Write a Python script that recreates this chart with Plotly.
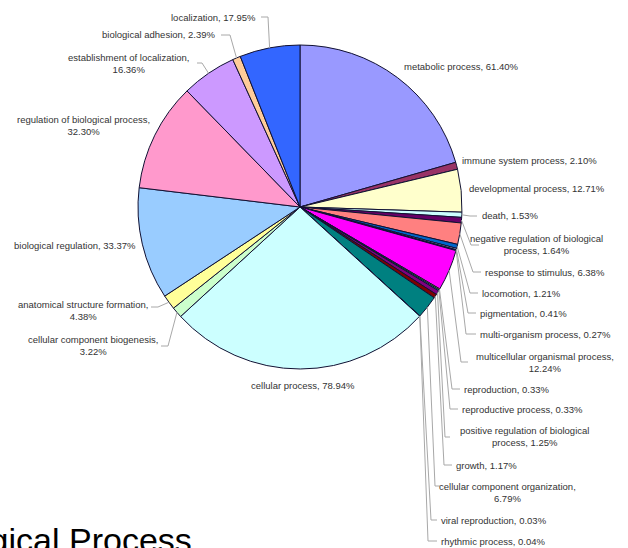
import math
import textwrap
import plotly.graph_objects as go

# GO "Biological Process" term shares (a gene may carry several terms, so the sum exceeds 100%)
categories = [
    "metabolic process", "immune system process", "developmental process", "death",
    "negative regulation of biological process", "response to stimulus", "locomotion",
    "pigmentation", "multi-organism process", "multicellular organismal process",
    "reproduction", "reproductive process", "positive regulation of biological process",
    "growth", "cellular component organization", "viral reproduction", "rhythmic process",
    "cellular process", "cellular component biogenesis", "anatomical structure formation",
    "biological regulation", "regulation of biological process",
    "establishment of localization", "biological adhesion", "localization",
]
percent = [
    61.40, 2.10, 12.71, 1.53,
    1.64, 6.38, 1.21,
    0.41, 0.27, 12.24,
    0.33, 0.33, 1.25,
    1.17, 6.79, 0.03, 0.04,
    78.94, 3.22, 4.38,
    33.37, 32.30,
    16.36, 2.39, 17.95,
]

# classic spreadsheet series palette
palette = [
    "#9999FF", "#993366", "#FFFFCC", "#CCFFFF", "#660066", "#FF8080", "#0066CC",
    "#CCCCFF", "#000080", "#FF00FF", "#FFFF00", "#00FFFF", "#800080", "#800000",
    "#008080", "#0000FF", "#00CCFF", "#CCFFFF", "#CCFFCC", "#FFFF99", "#99CCFF",
    "#FF99CC", "#CC99FF", "#FFCC99", "#3366FF",
]

W, H = 628, 548
CX, CY, R = 300, 207, 162  # pie centre and radius in pixels


def px(x):
    return x / W


def py(y):
    return 1 - y / H


# label placement: (anchor, x, y, leader tip, leader elbow) in pixels
label_layout = {
    "metabolic process": ("left", 402, 66, None, None),
    "immune system process": ("left", 460, 161, None, None),
    "developmental process": ("left", 467, 188, None, None),
    "death": ("left", 480, 216, (477, 216), (470, 216)),
    "negative regulation of biological process": ("center", 536, 244, (479, 245), (471, 245)),
    "response to stimulus": ("left", 483, 272, (481, 272), (473, 272)),
    "locomotion": ("left", 480, 293, (478, 293), (470, 293)),
    "pigmentation": ("left", 478, 313, (476, 313), (468, 313)),
    "multi-organism process": ("left", 478, 334, (476, 334), (466, 334)),
    "multicellular organismal process": ("center", 545, 362, (468, 362), (461, 362)),
    "reproduction": ("left", 462, 389, (460, 389), (452, 389)),
    "reproductive process": ("left", 460, 409, (458, 409), (450, 409)),
    "positive regulation of biological process": ("center", 524, 436, (450, 437), (445, 437)),
    "growth": ("left", 454, 465, (452, 465), (444, 465)),
    "cellular component organization": ("center", 507, 492, (440, 486), (435, 486)),
    "viral reproduction": ("left", 439, 520, (437, 520), (431, 520)),
    "rhythmic process": ("left", 439, 541, (437, 541), (428, 541)),
    "cellular process": ("center", 303, 385, None, None),
    "cellular component biogenesis": ("center", 93, 345, (161, 346), (168, 346)),
    "anatomical structure formation": ("center", 83, 310, (151, 307), (158, 307)),
    "biological regulation": ("right", 138, 245, None, None),
    "regulation of biological process": ("center", 83, 125, None, None),
    "establishment of localization": ("center", 128, 64, (197, 63), (202, 63)),
    "biological adhesion": ("right", 218, 35, (221, 35), (230, 35)),
    "localization": ("right", 258, 17, (261, 17), (268, 17)),
}

fig = go.Figure(
    go.Pie(
        labels=categories,
        values=percent,
        sort=False,
        direction="clockwise",
        rotation=0,
        textinfo="none",
        hovertemplate="%{label}, %{value:.2f}%<extra></extra>",
        marker=dict(colors=palette, line=dict(color="#111133", width=1)),
        domain=dict(x=[px(CX - R), px(CX + R)], y=[py(CY + R), py(CY - R)]),
    )
)

total = sum(percent)
annotations = []
shapes = []
cum = 0.0
for name, val in zip(categories, percent):
    mid = (cum + val / 2) / total * 2 * math.pi
    cum += val
    anchor, lx, ly, tip, elbow = label_layout[name]
    text = "<br>".join(textwrap.wrap(f"{name}, {val:.2f}%", width=33))
    annotations.append(dict(
        x=px(lx), y=py(ly), xref="paper", yref="paper",
        text=text, showarrow=False, xanchor=anchor, yanchor="middle",
        align="center", font=dict(family="Arial", size=9.5, color="#333333"),
    ))
    if tip is not None:
        ex = CX + R * math.sin(mid)
        ey = CY - R * math.cos(mid)
        path = (f"M {px(ex)} {py(ey)} L {px(elbow[0])} {py(elbow[1])} "
                f"L {px(tip[0])} {py(tip[1])}")
        shapes.append(dict(type="path", xref="paper", yref="paper", path=path,
                           line=dict(color="#A8A8A8", width=1)))

# chart title, running off the left edge of the page
annotations.append(dict(
    x=px(194), y=py(540), xref="paper", yref="paper", text="Biological Process",
    showarrow=False, xanchor="right", yanchor="middle",
    font=dict(family="Arial", size=34, color="#000000"),
))

fig.update_layout(
    width=W, height=H,
    margin=dict(l=0, r=0, t=0, b=0),
    paper_bgcolor="white", plot_bgcolor="white",
    showlegend=False,
    annotations=annotations,
    shapes=shapes,
)

fig.write_html("out.html")
